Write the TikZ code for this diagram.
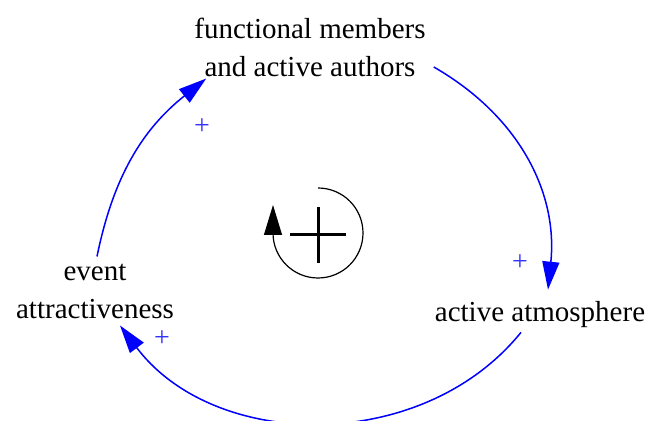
\documentclass[tikz,border=0pt]{standalone}
\usepackage{fontspec}
\setmainfont{Liberation Serif}
\usetikzlibrary{arrows.meta, positioning, calc}

\begin{document}
\begin{tikzpicture}[
      x=1pt, y=1pt,
      var/.style={align=center, font=\fontsize{29}{38}\selectfont, inner sep=2pt},
      link/.style={-{Triangle[length=28pt, width=17pt]}, blue, line width=1.5pt},
      pol/.style={blue!80, font=\fontsize{28}{28}\selectfont, inner sep=0pt}
  ]
      \useasboundingbox (0,0) rectangle (652,420);

      % Variables
      \node[var] (fm) at (310,373) {functional members\\and active authors};
      \node[var] (evt) at (95,129) {event\\attractiveness};
      \node[var] (atm) at (540,105) {active atmosphere};

      % Links
      \draw[link] ($(evt.north)+(2,5)$) to[bend left=20] ($(fm.south west)+(14,0)$);
      \draw[link] ($(fm.east)+(6,-20)$) to[bend left=33] ($(atm.north)+(8,10)$);
      \draw[link] ($(atm.south)+(-19,-2)$) to[bend left=52] ($(evt.south)+(25,-5)$);

      % Polarities
      \node[pol] (p1) at (202,293) {+};
      \node[pol] (p2) at (520,157) {+};
      \node[pol] (p3) at (162,81) {+};

      % Loop symbol
      \coordinate (loop) at (318,187);
      \draw[-{Triangle[length=30pt, width=18pt]}, line width=1.2pt]
          ($(loop)+(0,45)$) arc[start angle=90, end angle=-180, radius=45] -- ++(0,28);
      \draw[line width=3pt] ($(loop)+(-28,-2)$) -- ($(loop)+(28,-2)$);
      \draw[line width=3pt] ($(loop)+(0,-30)$) -- ($(loop)+(0,26)$);
  \end{tikzpicture}
\end{document}
